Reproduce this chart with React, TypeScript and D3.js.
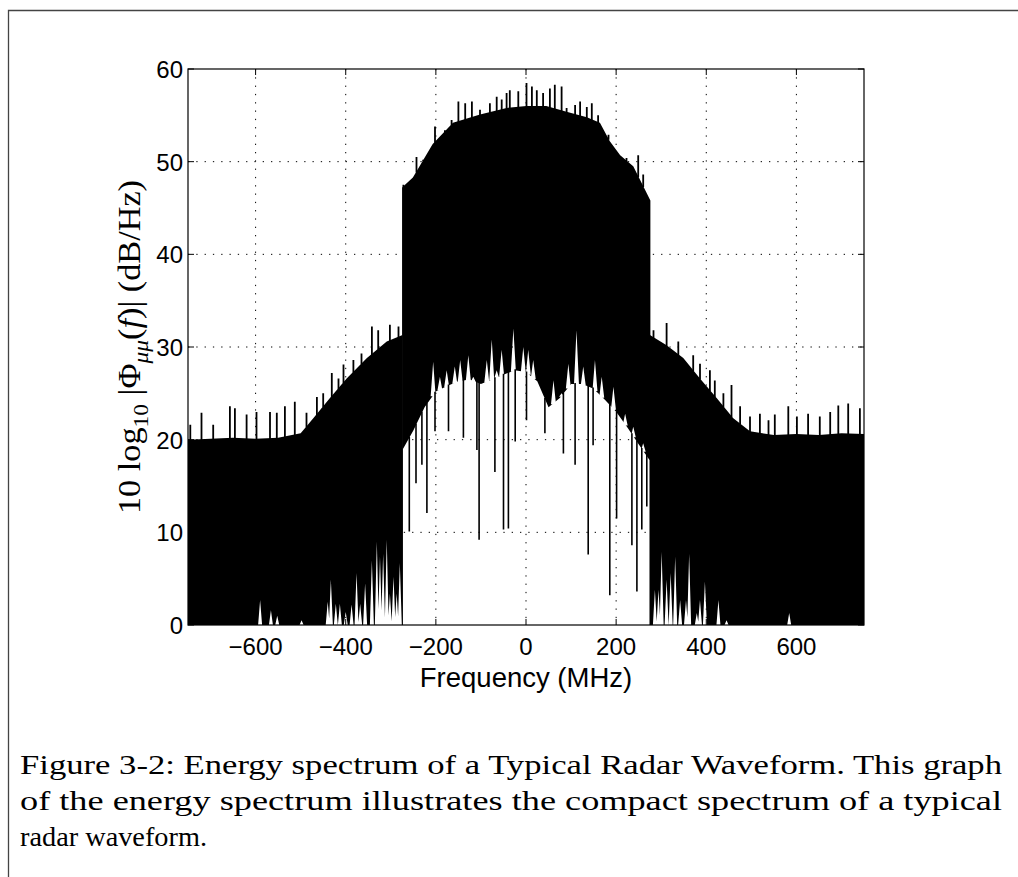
import React from 'react';
import * as d3 from 'd3';

const W = 1018, H = 877;
const PL = 188, PR = 864, PT = 69, PB = 625;

const xTicks = [-600, -400, -200, 0, 200, 400, 600];
const yTicks = [0, 10, 20, 30, 40, 50, 60];

// solid (dense) upper edge of the spectrum, [MHz, dB]
const leftWingTop = [[-750, 20.0], [-700, 20.1], [-650, 20.2], [-600, 20.1], [-550, 20.2], [-500, 20.7], [-472, 22.3], [-435, 24.5], [-398, 26.6], [-353, 28.8], [-309, 30.6], [-274, 31.3]];
const bandTop = [[-275, 47.2], [-251, 48.3], [-207, 51.9], [-162, 54.2], [-102, 55.1], [-43, 55.8], [1, 56.0], [45, 56.0], [90, 55.4], [135, 54.8], [164, 54.2], [186, 52.2], [209, 50.7], [238, 49.5], [268, 46.6], [276, 45.8]];
const rightWingTop = [[275, 31.3], [312, 30.2], [349, 28.8], [386, 26.6], [423, 24.5], [460, 22.3], [497, 20.9], [550, 20.5], [600, 20.6], [650, 20.5], [700, 20.7], [750, 20.6]];

// individual peaks above the dense edge
const leftWingSpikes = [[-745, 21.6], [-720, 22.9], [-694, 21.6], [-657, 23.6], [-646, 23.4], [-620, 22.7], [-598, 23.0], [-568, 23.0], [-553, 22.9], [-535, 23.6], [-513, 24.1], [-487, 22.9], [-464, 24.6], [-450, 25.0], [-431, 27.2], [-416, 26.6], [-405, 28.1], [-383, 28.6], [-365, 29.3], [-342, 32.2], [-328, 31.8], [-302, 32.4], [-283, 32.2]];
const bandSpikes = [[-272, 47.5], [-243, 50.5], [-228, 50.2], [-202, 53.8], [-180, 53.4], [-165, 54.5], [-150, 56.5], [-135, 56.3], [-120, 56.5], [-102, 55.6], [-80, 56.3], [-65, 57.0], [-54, 56.7], [-43, 57.4], [-36, 57.7], [-17, 57.6], [1, 58.5], [13, 58.1], [24, 57.7], [38, 57.4], [53, 57.9], [64, 58.3], [79, 58.1], [90, 55.8], [109, 56.1], [120, 56.5], [135, 55.9], [146, 56.3], [160, 55.0], [183, 52.9], [201, 51.1], [223, 50.4], [249, 50.7], [260, 48.6]];
const rightWingSpikes = [[283, 31.8], [312, 32.6], [338, 30.6], [371, 29.1], [386, 28.2], [408, 27.5], [419, 26.4], [438, 25.0], [456, 25.9], [475, 23.6], [497, 22.5], [519, 22.8], [538, 22.1], [552, 22.7], [582, 23.6], [601, 22.5], [626, 22.8], [652, 22.5], [675, 23.0], [693, 23.7], [715, 23.9], [741, 23.4]];

// inner white region (below the band) and its structure
const centerBase = [[-273, 19], [-250, 21], [-225, 23.5], [-200, 25.2], [-175, 25.8], [-150, 26.3], [-125, 26.5], [-100, 26], [-75, 26.5], [-50, 27], [-25, 27.5], [0, 27.3], [25, 26.3], [50, 23.5], [75, 24.5], [100, 26], [125, 26], [150, 25.5], [175, 24.3], [200, 23], [225, 21.3], [250, 19.5], [274, 17.8]];
const whitePeaks = [[-206, 28.4], [-191, 26.8], [-176, 27.5], [-158, 27.9], [-146, 28.6], [-128, 29.1], [-117, 26.8], [-87, 28.6], [-76, 30.8], [-65, 27.5], [-54, 29.7], [-28, 32.0], [-6, 30.0], [5, 29.7], [16, 28.6], [46, 22.8], [61, 26.4], [79, 25.0], [94, 28.2], [112, 31.8], [127, 27.9], [153, 28.6], [168, 26.8], [194, 25.7], [220, 22.8], [238, 21.4], [260, 19.6]];
const blackDips = [[-259, 10.1], [-244, 15.3], [-231, 17.3], [-220, 12.1], [-202, 20.9], [-172, 20.9], [-139, 20.2], [-109, 18.9], [-104, 9.2], [-69, 16.5], [-50, 10.3], [-39, 10.4], [-24, 19.8], [1, 22.1], [42, 20.7], [83, 18.5], [109, 17.3], [138, 7.6], [149, 19.4], [186, 3.2], [201, 11.5], [235, 8.6], [246, 3.6], [257, 10.3], [268, 12.8]];
const sideWhite = [[-590, 2.7], [-566, 1.6], [-552, 1.0], [-498, 0.5], [-440, 2.5], [-433, 4.9], [-422, 2.3], [-413, 2.3], [-400, 1.4], [-387, 2.2], [-376, 5.6], [-368, 2.3], [-357, 4.5], [-342, 7.0], [-331, 9.0], [-324, 7.4], [-317, 7.7], [-309, 9.2], [-302, 3.4], [-294, 5.2], [-287, 3.4], [-280, 6.7], [286, 3.8], [294, 3.8], [301, 7.9], [312, 4.9], [321, 5.6], [331, 7.4], [342, 2.7], [355, 2.7], [362, 7.7], [379, 1.3], [386, 2.7], [397, 4.7], [427, 2.7], [445, 0.5], [584, 1.3]];

const captionLines = [
  'Figure 3-2: Energy spectrum of a Typical Radar Waveform. This graph',
  'of the energy spectrum illustrates the compact spectrum of a typical',
  'radar waveform.',
];

function interp(pts: number[][], f: number): number {
  if (f <= pts[0][0]) return pts[0][1];
  for (let i = 1; i < pts.length; i++) {
    if (f <= pts[i][0]) {
      const [f0, v0] = pts[i - 1], [f1, v1] = pts[i];
      return v0 + (v1 - v0) * (f - f0) / (f1 - f0);
    }
  }
  return pts[pts.length - 1][1];
}

export default function App() {
  const x = d3.scaleLinear().domain([-750, 750]).range([PL, PR]);
  const y = d3.scaleLinear().domain([0, 60]).range([PB, PT]);

  const areaFromZero = d3.area<number[]>().x(d => x(d[0])).y0(y(0)).y1(d => y(d[1]));

  const spikePath = (env: number[][], spikes: number[][]) =>
    spikes.filter(([f, v]) => v > interp(env, f))
      .map(([f, v]) => `M${x(f).toFixed(1)},${(y(interp(env, f)) + 1).toFixed(1)}V${y(v).toFixed(1)}`).join('');

  const peakPath = whitePeaks.filter(([f, v]) => v > interp(centerBase, f)).map(([f, v]) => {
    const b = y(interp(centerBase, f)) + 1;
    return `M${x(f) - 2.5},${b}L${x(f)},${y(v)}L${x(f) + 2.5},${b}Z`;
  }).join('');

  const dipPath = blackDips.map(([f, v]) =>
    `M${x(f).toFixed(1)},${(y(interp(centerBase, f)) - 1).toFixed(1)}V${y(v).toFixed(1)}`).join('');

  const sideWhitePath = sideWhite.map(([f, v]) =>
    `M${x(f) - 2},${y(0)}L${x(f)},${y(v)}L${x(f) + 2},${y(0)}Z`).join('');

  const tickLen = 6;

  return (
    <svg width={W} height={H} style={{ position: 'absolute', left: 0, top: 0, background: '#fff' }}>
      <defs>
        <clipPath id="plotClip"><rect x={PL} y={PT} width={PR - PL} height={PB - PT} /></clipPath>
      </defs>
      <rect x={0} y={0} width={W} height={H} fill="#fff" />
      <path d={`M8.5,${H}V10.5H${W}`} fill="none" stroke="#444" strokeWidth={1.3} />

      <g clipPath="url(#plotClip)">
        <path d={areaFromZero(leftWingTop) || ''} fill="#000" />
        <path d={areaFromZero(rightWingTop) || ''} fill="#000" />
        <path d={areaFromZero(bandTop) || ''} fill="#000" />
        <path d={spikePath(leftWingTop, leftWingSpikes)} stroke="#000" strokeWidth={1.8} />
        <path d={spikePath(bandTop, bandSpikes)} stroke="#000" strokeWidth={1.8} />
        <path d={spikePath(rightWingTop, rightWingSpikes)} stroke="#000" strokeWidth={1.8} />
        <path d={areaFromZero(centerBase) || ''} fill="#fff" />
        <path d={peakPath} fill="#fff" />
        <path d={dipPath} stroke="#000" strokeWidth={1.6} />
        <path d={sideWhitePath} fill="#fff" />
        {xTicks.map(t => (
          <line key={'gx' + t} x1={x(t)} x2={x(t)} y1={PT} y2={PB} stroke="#000" strokeWidth={1} strokeDasharray="1.3,7" />
        ))}
        {yTicks.filter(t => t > 0 && t < 60).map(t => (
          <line key={'gy' + t} x1={PL} x2={PR} y1={y(t)} y2={y(t)} stroke="#000" strokeWidth={1} strokeDasharray="1.3,7" />
        ))}
      </g>

      <rect x={PL} y={PT} width={PR - PL} height={PB - PT} fill="none" stroke="#000" strokeWidth={1.2} />
      {xTicks.map(t => (
        <g key={'tx' + t}>
          <line x1={x(t)} x2={x(t)} y1={PB} y2={PB - tickLen} stroke="#000" />
          <line x1={x(t)} x2={x(t)} y1={PT} y2={PT + tickLen} stroke="#000" />
          <text x={x(t)} y={PB + 30} textAnchor="middle" fontFamily="'Liberation Sans', Arial, sans-serif" fontSize={24} fill="#000">
            {t < 0 ? '\u2212' + Math.abs(t) : String(t)}
          </text>
        </g>
      ))}
      {yTicks.map(t => (
        <g key={'ty' + t}>
          <line x1={PL} x2={PL + tickLen} y1={y(t)} y2={y(t)} stroke="#000" />
          <line x1={PR} x2={PR - tickLen} y1={y(t)} y2={y(t)} stroke="#000" />
          <text x={PL - 5} y={y(t) + 9} textAnchor="end" fontFamily="'Liberation Sans', Arial, sans-serif" fontSize={24} fill="#000">{t}</text>
        </g>
      ))}

      <text x={(PL + PR) / 2} y={687} textAnchor="middle" fontFamily="'Liberation Sans', Arial, sans-serif" fontSize={27.5} fill="#000">Frequency (MHz)</text>

      <text transform={`translate(140,${(PT + PB) / 2}) rotate(-90)`} textAnchor="middle" fontFamily="'Liberation Serif', 'Times New Roman', serif" fontSize={32} fill="#000"
        textLength={334} lengthAdjust="spacingAndGlyphs">
        10 log<tspan dy={8} fontSize={22}>10</tspan><tspan dy={-8}> |Φ</tspan><tspan dy={8} fontSize={22} fontStyle="italic">μμ</tspan><tspan dy={-8}>(</tspan><tspan fontStyle="italic">f</tspan>)| (dB/Hz)
      </text>

      {captionLines.map((line, i) => (
        <text key={'c' + i} x={20} y={774 + i * 36} fontFamily="'Liberation Serif', 'Times New Roman', serif" fontSize={28} fill="#000"
          textLength={i < 2 ? 982 : 187} lengthAdjust="spacingAndGlyphs">{line}</text>
      ))}
    </svg>
  );
}
